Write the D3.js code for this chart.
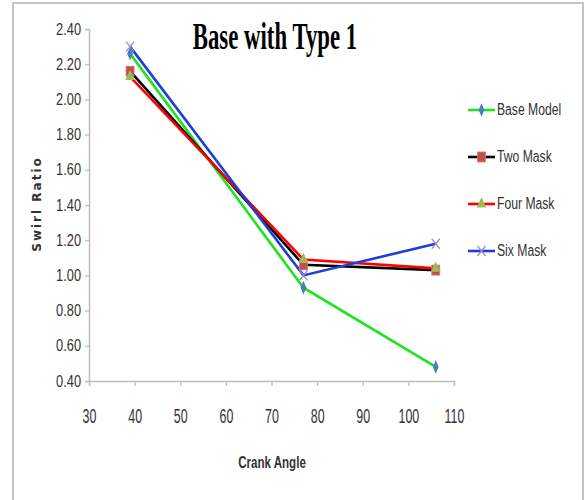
<!DOCTYPE html>
<html>
<head>
<meta charset="utf-8">
<script src="https://cdn.jsdelivr.net/npm/d3@7"></script>
<style>
  body { margin: 0; background: #fff; }
  svg { display: block; }
</style>
</head>
<body>
<svg id="chart" width="588" height="500"></svg>
<script>
const crankAngles = [39, 77, 106];
const baseModel = [2.26, 0.93, 0.48];
const twoMask = [2.16, 1.06, 1.03];
const fourMask = [2.13, 1.09, 1.04];
const sixMask = [2.30, 1.00, 1.18];
const seriesNames = ['Base Model', 'Two Mask', 'Four Mask', 'Six Mask'];
const xTicks = [30, 40, 50, 60, 70, 80, 90, 100, 110];
const yTicks = [0.4, 0.6, 0.8, 1.0, 1.2, 1.4, 1.6, 1.8, 2.0, 2.2, 2.4];

const series = [
  { name: seriesNames[0], values: baseModel, line: '#1ee41e', marker: 'diamond', mcolor: '#4a7ebb' },
  { name: seriesNames[1], values: twoMask, line: '#000000', marker: 'square', mcolor: '#c0504d' },
  { name: seriesNames[2], values: fourMask, line: '#ff0000', marker: 'triangle', mcolor: '#9bbb59' },
  { name: seriesNames[3], values: sixMask, line: '#1c3fd6', marker: 'x', mcolor: '#9d8cc8' }
];

const svg = d3.select('#chart');
const x = d3.scaleLinear().domain([30, 110]).range([89, 454]);
const y = d3.scaleLinear().domain([0.4, 2.4]).range([381, 29]);

// squeeze text horizontally, the source chart is narrow
function squeeze(sel, k) {
  sel.each(function () {
    const w = this.getComputedTextLength();
    d3.select(this).attr('textLength', w * k).attr('lengthAdjust', 'spacingAndGlyphs');
  });
}

// outer frame
svg.append('rect')
  .attr('x', 13).attr('y', 3)
  .attr('width', 570).attr('height', 520)
  .attr('fill', 'none')
  .attr('stroke', '#c4c4c4')
  .attr('stroke-width', 2);

// axes
const yAxis = svg.append('g')
  .attr('transform', 'translate(89,0)')
  .call(d3.axisLeft(y).tickValues(yTicks).tickFormat(d3.format('.2f')).tickSize(4).tickPadding(4));
const xAxis = svg.append('g')
  .attr('transform', 'translate(0,381)')
  .call(d3.axisBottom(x).tickValues(xTicks).tickSize(5).tickPadding(23));

[yAxis, xAxis].forEach(ax => {
  ax.select('.domain').attr('stroke', '#bdbdbd').attr('stroke-width', 1.5);
  ax.selectAll('.tick line').attr('stroke', '#bdbdbd').attr('stroke-width', 1.2);
  ax.selectAll('.tick text')
    .attr('fill', '#333')
    .style('font-family', 'Liberation Sans, Arial, sans-serif');
});
yAxis.selectAll('.tick text').style('font-size', '16px');
xAxis.selectAll('.tick text').style('font-size', '20px');
squeeze(yAxis.selectAll('.tick text'), 0.8);
squeeze(xAxis.selectAll('.tick text'), 0.62);

// lines
const line = d3.line()
  .x((d, i) => x(crankAngles[i]))
  .y(d => y(d));

series.forEach(s => {
  svg.append('path')
    .datum(s.values)
    .attr('fill', 'none')
    .attr('stroke', s.line)
    .attr('stroke-width', 2.6)
    .attr('d', line);
});

function drawMarker(g, type, color, cx, cy) {
  if (type === 'diamond') {
    g.append('path')
      .attr('d', d3.symbol().type(d3.symbolDiamond).size(45)())
      .attr('transform', `translate(${cx},${cy}) scale(0.8,1.1)`)
      .attr('fill', color);
  } else if (type === 'square') {
    g.append('rect')
      .attr('x', cx - 4).attr('y', cy - 5)
      .attr('width', 8).attr('height', 10)
      .attr('fill', color).attr('stroke', '#d87a78').attr('stroke-width', 0.8);
  } else if (type === 'triangle') {
    g.append('path')
      .attr('d', d3.symbol().type(d3.symbolTriangle).size(50)())
      .attr('transform', `translate(${cx},${cy}) scale(0.9,1.1)`)
      .attr('fill', color);
  } else {
    g.append('path')
      .attr('d', `M${cx - 4},${cy - 5}L${cx + 4},${cy + 5}M${cx + 4},${cy - 5}L${cx - 4},${cy + 5}`)
      .attr('stroke', color).attr('stroke-width', 1.3).attr('fill', 'none');
  }
}

const markers = svg.append('g');
series.forEach(s => {
  s.values.forEach((v, i) => drawMarker(markers, s.marker, s.mcolor, x(crankAngles[i]), y(v)));
});

// title
const title = svg.append('text')
  .attr('x', 275).attr('y', 49)
  .attr('text-anchor', 'middle')
  .style('font-family', 'Liberation Serif, Times New Roman, serif')
  .style('font-weight', 'bold')
  .style('font-size', '38px')
  .attr('fill', '#000')
  .text('Base with Type 1');
squeeze(title, 0.6);

// axis titles
const xTitle = svg.append('text')
  .attr('x', 272).attr('y', 468)
  .attr('text-anchor', 'middle')
  .style('font-family', 'Liberation Sans, Arial, sans-serif')
  .style('font-size', '17px')
  .style('font-weight', 'bold')
  .attr('fill', '#333')
  .text('Crank Angle');
squeeze(xTitle, 0.68);

svg.append('text')
  .attr('transform', 'translate(41,204) rotate(-90)')
  .attr('text-anchor', 'middle')
  .style('font-family', 'DejaVu Sans, Verdana, sans-serif')
  .style('font-weight', 'bold')
  .style('font-size', '12px')
  .style('letter-spacing', '2px')
  .attr('fill', '#333')
  .text('Swirl Ratio');

// legend
const legendY = [110, 157, 204, 251];
series.forEach((s, i) => {
  const g = svg.append('g');
  g.append('line')
    .attr('x1', 468).attr('x2', 495)
    .attr('y1', legendY[i]).attr('y2', legendY[i])
    .attr('stroke', s.line).attr('stroke-width', 2.6);
  drawMarker(g, s.marker, s.mcolor, 481.5, legendY[i]);
  const t = g.append('text')
    .attr('x', 497).attr('y', legendY[i] + 5)
    .style('font-family', 'Liberation Sans, Arial, sans-serif')
    .style('font-size', '16px')
    .attr('fill', '#333')
    .text(s.name);
  squeeze(t, 0.76);
});
</script>
</body>
</html>
